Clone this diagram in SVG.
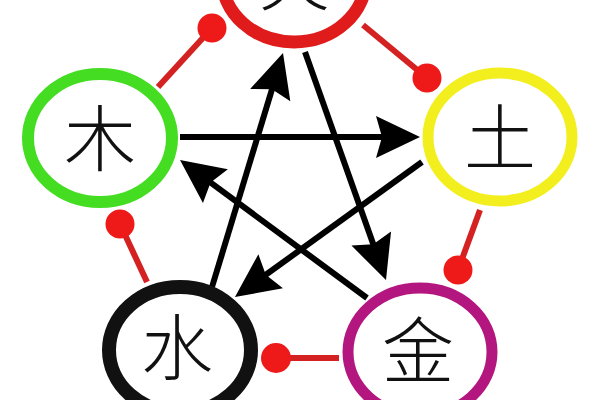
<svg xmlns="http://www.w3.org/2000/svg" width="600" height="400" viewBox="0 0 600 400">
  <style>
    .ring { fill: none; }
    .lbl { font-family: "Noto Sans CJK SC", "Noto Sans CJK JP", sans-serif; font-size: 72px; font-weight: 300; fill: #111; text-anchor: middle; }
    .gen { stroke: #d42222; stroke-width: 6; fill: none; }
    .dot { fill: #ee1a1a; }
    .ctl { stroke: #000; stroke-width: 6; fill: none; marker-end: url(#arrow); }
  </style>
  <defs>
    <marker id="arrow" markerUnits="userSpaceOnUse" markerWidth="44" markerHeight="42" refX="24" refY="21" orient="auto" overflow="visible">
      <path d="M0,0 L44,21 L0,42 L6,21 z" fill="#000"/>
    </marker>
  </defs>
  <rect width="600" height="400" fill="#fff"/>

  <g id="connectors">
    <g id="generating">
      <line class="gen" x1="158" y1="87" x2="212" y2="28"/>
      <circle class="dot" cx="212" cy="28" r="14.5"/>
      <line class="gen" x1="363" y1="25" x2="427" y2="78"/>
      <circle class="dot" cx="427" cy="78" r="14.5"/>
      <line class="gen" x1="480" y1="210" x2="458" y2="270"/>
      <circle class="dot" cx="458" cy="270" r="14.5"/>
      <line class="gen" x1="339" y1="358" x2="277" y2="358"/>
      <circle class="dot" cx="276" cy="358" r="15"/>
      <line class="gen" x1="147" y1="282" x2="120" y2="224"/>
      <circle class="dot" cx="120" cy="224" r="14.5"/>
    </g>
    <g id="controlling">
      <line class="ctl" x1="180" y1="137" x2="400" y2="137"/>
      <line class="ctl" x1="422" y1="162" x2="251.2" y2="285.3"/>
      <line class="ctl" x1="212" y1="287" x2="277.2" y2="72.1"/>
      <line class="ctl" x1="305" y1="52" x2="379.3" y2="261.2"/>
      <line class="ctl" x1="367" y1="298" x2="196.1" y2="171.9"/>
    </g>
  </g>

  <g id="fire">
    <ellipse class="ring" cx="294" cy="-22" rx="72" ry="64" stroke="#e01b1b" stroke-width="13"/>
    <text class="lbl" x="294" y="5">火</text>
  </g>
  <g id="wood">
    <ellipse class="ring" cx="100" cy="138" rx="72" ry="64" stroke="#44dd22" stroke-width="12"/>
    <text class="lbl" x="100" y="165">木</text>
  </g>
  <g id="earth">
    <ellipse class="ring" cx="500" cy="137" rx="72" ry="64" stroke="#f3ef1e" stroke-width="11"/>
    <text class="lbl" x="500" y="164">土</text>
  </g>
  <g id="water">
    <ellipse class="ring" cx="180" cy="350" rx="71" ry="63" stroke="#111" stroke-width="14"/>
    <text class="lbl" x="177" y="374">水</text>
  </g>
  <g id="metal">
    <ellipse class="ring" cx="420" cy="352" rx="72" ry="64" stroke="#b3177f" stroke-width="11"/>
    <text class="lbl" x="418" y="377">金</text>
  </g>
</svg>
